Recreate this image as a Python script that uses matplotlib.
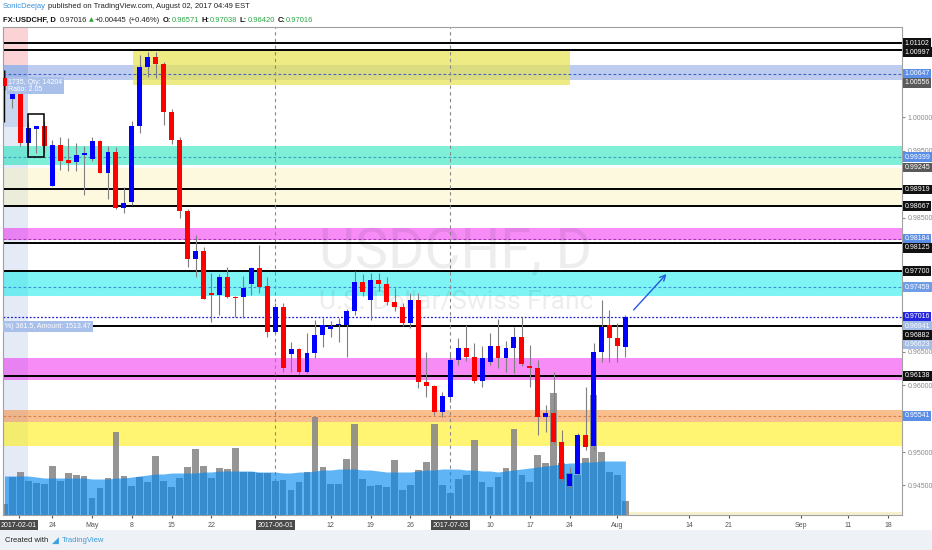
import numpy as np
import matplotlib
matplotlib.use("Agg")
import matplotlib.pyplot as plt
from matplotlib.patches import Rectangle

NARROW = ["Liberation Sans Narrow", "Liberation Sans", "DejaVu Sans"]
plt.rcParams["font.family"] = NARROW

# daily USDCHF candles, mid April -> Aug 02 2017 (bar index 0..78)
opens = [1.00578, 1.00264, 1.00428, 0.99607, 0.99826, 0.99866, 0.98975, 0.99582, 0.99358, 0.99324,
         0.99433, 0.99369, 0.99642, 0.99160, 0.99482, 0.98637, 0.98736, 0.99870, 1.00750, 1.00890,
         1.00787, 1.00070, 0.99657, 0.98600, 0.97876, 0.98000, 0.97375, 0.97343, 0.97616, 0.97318,
         0.97318, 0.97507, 0.97742, 0.97478, 0.96791, 0.97169, 0.96458, 0.96533, 0.96199, 0.96473,
         0.96746, 0.96831, 0.96895, 0.96896, 0.97109, 0.97533, 0.97269, 0.97567, 0.97507, 0.97243,
         0.97169, 0.96930, 0.97269, 0.96050, 0.95985, 0.95601, 0.95825, 0.96373, 0.96548, 0.96413,
         0.96064, 0.96348, 0.96582, 0.96399, 0.96548, 0.96721, 0.96284, 0.96258, 0.95518, 0.95578,
         0.95145, 0.94493, 0.94672, 0.95254, 0.95090, 0.96497, 0.96896, 0.96697, 0.96571]
highs = [1.00700, 1.00500, 1.00450, 0.99930, 0.99870, 0.99940, 0.99657, 0.99700, 0.99687, 0.99610,
         0.99570, 0.99700, 0.99660, 0.99570, 0.99550, 0.98950, 0.99940, 1.00925, 1.00970, 1.00970,
         1.00820, 1.00120, 0.99700, 0.98620, 0.98239, 0.98064, 0.97672, 0.97660, 0.97766, 0.97330,
         0.97620, 0.97766, 0.98090, 0.97616, 0.97228, 0.97220, 0.96646, 0.96545, 0.96780, 0.96970,
         0.96996, 0.96960, 0.97000, 0.97130, 0.97706, 0.97660, 0.97667, 0.97676, 0.97610, 0.97443,
         0.97220, 0.97369, 0.97369, 0.96497, 0.96000, 0.95900, 0.96497, 0.96700, 0.96896, 0.96627,
         0.96580, 0.96772, 0.96981, 0.96650, 0.96870, 0.97020, 0.96597, 0.96373, 0.95701, 0.96199,
         0.95328, 0.94781, 0.95280, 0.95975, 0.96622, 0.97269, 0.97120, 0.96921, 0.97038]
lows = [1.00400, 1.00130, 0.99567, 0.99458, 0.99470, 0.99458, 0.98975, 0.99209, 0.99190, 0.99190,
        0.98840, 0.99350, 0.99160, 0.98770, 0.98630, 0.98570, 0.98690, 0.99760, 1.00600, 1.00580,
        0.99880, 0.99600, 0.98493, 0.97766, 0.97617, 0.97280, 0.96945, 0.97045, 0.97300, 0.97020,
        0.97000, 0.97343, 0.97380, 0.96720, 0.96776, 0.96200, 0.96199, 0.96160, 0.96180, 0.96400,
        0.96572, 0.96720, 0.96647, 0.96422, 0.97050, 0.97328, 0.96970, 0.97410, 0.97200, 0.97100,
        0.96880, 0.96846, 0.95951, 0.95825, 0.95552, 0.95527, 0.95750, 0.96300, 0.96360, 0.96025,
        0.95975, 0.96300, 0.96250, 0.96200, 0.96175, 0.96280, 0.95975, 0.95254, 0.95303, 0.95130,
        0.94567, 0.94458, 0.94650, 0.95030, 0.95030, 0.96348, 0.96348, 0.96348, 0.96420]
closes = [1.00467, 1.00428, 0.99607, 0.99831, 0.99866, 0.99572, 0.99582, 0.99348, 0.99318, 0.99433,
          0.99467, 0.99642, 0.99160, 0.99482, 0.98637, 0.98712, 0.99870, 1.00750, 1.00890, 1.00787,
          1.00080, 0.99657, 0.98600, 0.97876, 0.98000, 0.97284, 0.97345, 0.97616, 0.97318, 0.97305,
          0.97443, 0.97742, 0.97467, 0.96791, 0.97160, 0.96249, 0.96533, 0.96199, 0.96473, 0.96746,
          0.96896, 0.96880, 0.96905, 0.97109, 0.97533, 0.97384, 0.97567, 0.97507, 0.97234, 0.97169,
          0.96930, 0.97269, 0.96049, 0.95985, 0.95601, 0.95840, 0.96373, 0.96548, 0.96413, 0.96064,
          0.96398, 0.96582, 0.96399, 0.96548, 0.96721, 0.96313, 0.96260, 0.95518, 0.95578, 0.95145,
          0.94593, 0.94672, 0.95254, 0.95079, 0.96497, 0.96870, 0.96697, 0.96582, 0.97016]

# volume (arbitrary units) and its moving average as shown
volume = [11, 38, 43, 34, 32, 31, 49, 34, 42, 40, 39, 17, 27, 37, 83, 39, 29, 38, 33, 59,
          34, 28, 37, 48, 66, 49, 37, 47, 46, 67, 43, 43, 42, 42, 34, 35, 25, 33, 43, 98,
          48, 31, 31, 56, 91, 36, 29, 30, 28, 55, 25, 30, 45, 53, 91, 30, 22, 36, 40, 75,
          33, 28, 38, 47, 86, 40, 33, 60, 52, 122, 52, 42, 40, 57, 120, 63, 43, 40, 14]
volume_ma = [39, 39, 39, 39, 38, 37, 37, 37, 37, 37, 37, 36, 36, 36, 37, 37, 38, 39, 40, 41,
             41, 42, 42, 42, 42, 43, 43, 44, 44, 44, 44, 44, 43, 43, 43, 42, 42, 43, 43, 44,
             45, 45, 46, 46, 46, 45, 45, 44, 43, 43, 43, 43, 44, 45, 45, 46, 46, 46, 45, 45,
             44, 44, 43, 44, 45, 46, 47, 48, 49, 50, 51, 52, 52, 53, 53, 54, 54, 54, 54]

# x axis labels (bar index -> text)
tick_pos = [1.8, 6, 11, 16, 21, 26, 34, 41, 46, 51, 56, 61, 66, 71, 77, 86, 91, 100, 106, 111]
tick_txt = ["2017-02-01", "24", "May", "8", "15", "22", "2017-06-01", "12", "19", "26",
            "2017-07-03", "10", "17", "24", "Aug", "14", "21", "Sep", "11", "18"]

# drawn levels
black_lines = [1.01102, 1.00997, 0.98919, 0.98667, 0.98125, 0.97700, 0.96882, 0.96138]
band_lo = [1.00556, 0.99280, 0.98667, 0.98160, 0.97330, 0.96070, 0.95452, 0.95094]
band_hi = [1.00780, 0.99560, 0.99245, 0.98340, 0.97700, 0.96400, 0.95627, 0.95452]
band_col = ["#6f8fdc", "#00e0b0", "#f8f0b0", "#ee00ee", "#00eaea", "#ee00ee", "#f58020", "#ffee00"]
band_alpha = [0.45, 0.5, 0.4, 0.45, 0.5, 0.45, 0.5, 0.55]
dash_levels = [1.00647, 0.99399, 0.98184, 0.97459, 0.95541]
dash_col = ["#3f63c8", "#3a9fc0", "#a03ab0", "#3a90d8", "#d8804a"]
last_price = 0.97016

lbl_price = [1.01102, 1.00997, 1.00647, 1.00556, 0.99399, 0.99245, 0.98919, 0.98667, 0.98184,
             0.98125, 0.97700, 0.97459, 0.97016, 0.96941, 0.96882, 0.96623, 0.96138, 0.95541]
lbl_col = ["#111111", "#111111", "#5b8ee6", "#5a5a5a", "#5b8ee6", "#5a5a5a", "#111111", "#111111",
           "#5b8ee6", "#111111", "#111111", "#6f9de8", "#2626e0", "#a3bce8", "#111111", "#a3bce8",
           "#111111", "#5b8ee6"]

idx = np.arange(len(opens))
W, H = 932, 550
x_lim = (-0.19, 112.75)
y_lim = (0.940597, 1.013433)

fig = plt.figure(figsize=(W / 100, H / 100), dpi=100)
fig.patch.set_facecolor("white")
rect = [3 / W, (H - 515) / H, (902 - 3) / W, (515 - 27) / H]

# background layer: zones and watermark
ax = fig.add_axes(rect)
ax.set_xlim(*x_lim)
ax.set_ylim(*y_lim)
ax.set_facecolor("white")
ax.tick_params(left=False, bottom=False, labelleft=False, labelbottom=False)
for s in ax.spines.values():
    s.set_visible(False)

# long position tool strip at left
ax.add_patch(Rectangle((-0.19, 1.0078), 3.1, 0.01, color="#fbd3d6", lw=0))
ax.add_patch(Rectangle((-0.19, 0.9985), 3.1, 0.0093, color="#c9d6f0", lw=0))
ax.add_patch(Rectangle((-0.19, 0.9405), 3.1, 0.058, color="#e4ebf7", lw=0))

for lo, hi, c, a in zip(band_lo, band_hi, band_col, band_alpha):
    ax.axhspan(lo, hi, color=c, alpha=a, lw=0)
ax.add_patch(Rectangle((16.1, 1.00478), 55.0, 0.00519, color="#e8e350", alpha=0.7, lw=0))
ax.add_patch(Rectangle((78.5, 0.9405), 34.5, 0.0006, color="#f5f1cf", lw=0))

for p, c in zip(dash_levels, dash_col):
    ax.axhline(p, color=c, lw=0.8, ls=(0, (2.5, 2)))
for p in black_lines:
    ax.axhline(p, color="black", lw=1.4)
ax.axhline(last_price, color="#2020c8", lw=0.9, ls=(0, (1.5, 1.5)))
for d in [34, 56]:
    ax.axvline(d, color="#8a8a8a", lw=0.8, ls=(0, (3, 3)))

ax.text(56.6, 0.9797, "USDCHF, D", ha="center", va="center", fontsize=40,
        family=["Roboto", "DejaVu Sans"], color="black", alpha=0.07)
ax.text(56.7, 0.97239, "U.S. Dollar/Swiss Franc", ha="center", va="center", fontsize=19,
        family=["Roboto", "DejaVu Sans"], color="black", alpha=0.07)

# volume layer
ax_vol = fig.add_axes(rect)
ax_vol.set_xlim(*x_lim)
ax_vol.set_ylim(0, 488)
ax_vol.axis("off")
ax_vol.bar(idx, volume, width=0.85, color="#8a8a8a", alpha=0.9, lw=0)
ax_vol.fill_between(idx, 0, volume_ma, color="#0088f0", alpha=0.63, lw=0)

# candle layer
ax_c = fig.add_axes(rect)
ax_c.set_xlim(*x_lim)
ax_c.set_ylim(*y_lim)
ax_c.set_facecolor("none")

o = np.array(opens)
c = np.array(closes)
cols = np.where(c >= o, "#0000ff", "#ff0000")
ax_c.vlines(idx, lows, highs, color="#7f7f7f", lw=0.8, zorder=2)
ax_c.bar(idx, np.maximum(np.abs(c - o), 0.00008), bottom=np.minimum(o, c), width=0.62,
         color=cols, lw=0, zorder=3)

ax_c.add_patch(Rectangle((2.99, 0.99407), 2.0, 0.00638, fill=False, ec="black", lw=1.1, zorder=4))
ax_c.vlines(-0.05, 0.99925, 1.0070, color="black", lw=1)
ax_c.annotate("", xy=(83.4, 0.97687), xytext=(78.8, 0.9709),
              arrowprops=dict(arrowstyle="->", color="#2458e0", lw=1))

ax_c.text(0.5, 1.0047, "1735, Qty: 14204\nRatio: 2.05", fontsize=5, color="white",
          va="center", ha="left", linespacing=1.0,
          bbox=dict(boxstyle="square,pad=0.25", fc="#a9c0ea", ec="none"), zorder=5)
ax_c.text(0.1, 0.96873, "%) 361.5, Amount: 1513.47", fontsize=5, color="white",
          va="center", ha="left",
          bbox=dict(boxstyle="square,pad=0.3", fc="#a9c0ea", ec="none"), zorder=5)

# axes styling
for s in ax_c.spines.values():
    s.set_color("#a0a0a0")
    s.set_linewidth(0.8)
ax_c.yaxis.tick_right()
ax_c.set_yticks([0.945, 0.950, 0.960, 0.965, 0.985, 0.995, 1.000])
ax_c.set_yticklabels([f"{v:.5f}" for v in [0.945, 0.950, 0.960, 0.965, 0.985, 0.995, 1.000]])
ax_c.tick_params(axis="y", labelsize=5, colors="#8a8a8a", length=2, pad=2)
ax_c.set_xticks(tick_pos)
ax_c.set_xticklabels(tick_txt)
ax_c.tick_params(axis="x", labelsize=5, colors="#555555", length=2, pad=3)
for lab in ax_c.get_xticklabels():
    if "-" in lab.get_text():
        lab.set_color("white")
        lab.set_bbox(dict(boxstyle="square,pad=0.22", fc="#4a4a4a", ec="none"))

# price labels on the right scale, pushed apart like TradingView does
ytr = ax_c.get_yaxis_transform()
min_gap = 9.2 * (y_lim[1] - y_lim[0]) / 488
prev = None
for p, col in sorted(zip(lbl_price, lbl_col), reverse=True):
    pos = p if prev is None else min(p, prev - min_gap)
    prev = pos
    ax_c.text(1.003, pos, f"{p:.5f}", transform=ytr, fontsize=5, color="white",
              ha="left", va="center",
              bbox=dict(boxstyle="square,pad=0.2", fc=col, ec="none"))

# header / footer text, laid out piece by piece
renderer = fig.canvas.get_renderer()


def line(x, y, pieces):
    for s, gap, kw in pieces:
        kw = dict(kw)
        kw.setdefault("fontsize", 5.5)
        t = fig.text(x / W, 1 - y / H, s, va="center", ha="left", **kw)
        x += t.get_window_extent(renderer).width + gap


dark = {"color": "#222222"}
bold = {"color": "#111111", "fontweight": "bold"}
green = {"color": "#2aa845"}
line(3, 7, [("SonicDeejay", 2.5, {"color": "#3a8fd8"}),
            ("published on TradingView.com, August 02, 2017 04:49 EST", 0, dark)])
line(3, 20, [("FX:USDCHF, D", 4, bold),
             ("0.97016", 1.5, dark),
             ("\u25b2", 1.5, {"color": "#2ca02c", "family": ["DejaVu Sans"], "fontsize": 4.5}),
             ("+0.00445", 2, dark),
             ("(+0.46%)", 2.5, dark),
             ("O:", 0.5, bold), ("0.96571", 2.5, green),
             ("H:", 0.5, bold), ("0.97038", 2.5, green),
             ("L:", 0.5, bold), ("0.96420", 2.5, green),
             ("C:", 0.5, bold), ("0.97016", 0, green)])

fig.patches.append(Rectangle((0, 0), 1, 20 / H, transform=fig.transFigure,
                             color="#eef2f6", lw=0, zorder=-1))
line(5, 540, [("Created with", 4, dark),
              ("\u25e2", 3, {"color": "#3fa0e0", "family": ["DejaVu Sans"], "fontsize": 6.5}),
              ("TradingView", 0, {"color": "#3a9ad9"})])

fig.savefig("out.png", dpi=100)
